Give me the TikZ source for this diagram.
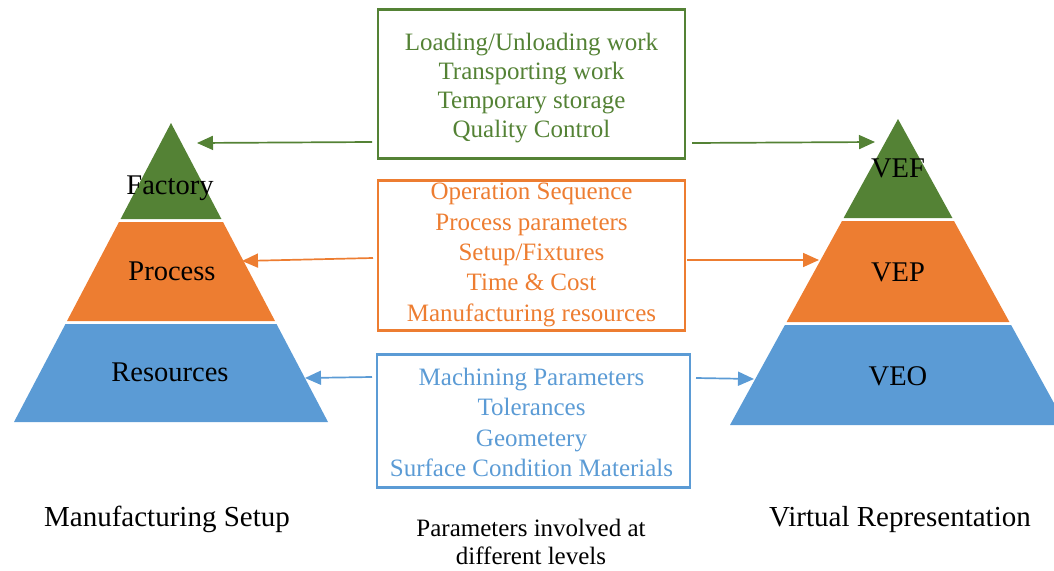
\documentclass[tikz,border=0pt]{standalone}
\usepackage{fontspec}
\setmainfont{Liberation Serif}
\usetikzlibrary{arrows.meta}
\definecolor{cgreen}{HTML}{548235}
\definecolor{corange}{HTML}{ED7D31}
\definecolor{cblue}{HTML}{5B9BD5}
\tikzset{
  parbox/.style={draw=#1, line width=2.5pt, inner sep=0pt},
  partext/.style={text=#1, align=center, inner sep=0pt},
  conn/.style={draw=#1, line width=1.7pt, -{Triangle[length=16pt,width=14pt]}, fill=#1},
  levellabel/.style={font=\fontsize{28.5}{32}\selectfont, text=black, inner sep=0pt, anchor=base},
  caption/.style={font=\fontsize{29}{33}\selectfont, text=black, inner sep=0pt, anchor=base},
  subcaption/.style={font=\fontsize{25}{28.5}\selectfont, text=black, inner sep=0pt, align=center}
}
\begin{document}
\begin{tikzpicture}[x=1pt,y=-1pt]
\useasboundingbox (0,0) rectangle (1054,570);
\clip (0,0) rectangle (1054,570);

% Left pyramid
\fill[cgreen]  (171,123) -- (221.4,219) -- (120.6,219) -- cycle;
\fill[corange] (119,222) -- (223,222) -- (275,321) -- (67,321) -- cycle;
\fill[cblue]   (65.5,324) -- (276.5,324) -- (328,422) -- (14,422) -- cycle;
\node[levellabel] (lf) at (170,194) {Factory};
\node[levellabel] (lp) at (172,280) {Process};
\node[levellabel] (lr) at (170,381) {Resources};

% Right pyramid
\fill[cgreen]  (898,119) -- (952.4,218) -- (843.6,218) -- cycle;
\fill[corange] (842,221) -- (954,221) -- (1009.4,322) -- (786.6,322) -- cycle;
\fill[cblue]   (784.9,325) -- (1011.1,325) -- (1066,425) -- (730,425) -- cycle;
\node[levellabel] (rf) at (898,177) {VEF};
\node[levellabel] (rp) at (898,281) {VEP};
\node[levellabel] (rr) at (898,385) {VEO};

% Parameter boxes
\node[parbox=cgreen, minimum width=307pt, minimum height=149pt] (gbox) at (531.5,84) {};
\node[partext=cgreen, font=\fontsize{25}{29.3}\selectfont] (gtext) at (531.5,88)
  {Loading/Unloading work\\Transporting work\\Temporary storage\\Quality Control};
\node[parbox=corange, minimum width=307pt, minimum height=150pt] (obox) at (531.5,255.5) {};
\node[partext=corange, font=\fontsize{25}{30.3}\selectfont] (otext) at (531.5,255)
  {Operation Sequence\\Process parameters\\Setup/Fixtures\\Time \& Cost\\Manufacturing resources};
\node[parbox=cblue, minimum width=313pt, minimum height=133pt] (bbox) at (533.5,421) {};
\node[partext=cblue, font=\fontsize{25}{30.2}\selectfont] (btext) at (531.5,422.5)
  {Machining Parameters\\Tolerances\\Geometery\\Surface Condition Materials};

% Connector end points
\coordinate (gl0) at (372,142);
\coordinate (gl1) at (197,143);
\coordinate (gr0) at (692,143);
\coordinate (gr1) at (875,142);
\coordinate (ol0) at (373,258);
\coordinate (ol1) at (242,261);
\coordinate (or0) at (687,260);
\coordinate (or1) at (819,260);
\coordinate (bl0) at (372,377);
\coordinate (bl1) at (305,378);
\coordinate (br0) at (696,378);
\coordinate (br1) at (754,379);

\draw[conn=cgreen]  (gl0) -- (gl1);
\draw[conn=cgreen]  (gr0) -- (gr1);
\draw[conn=corange] (ol0) -- (ol1);
\draw[conn=corange] (or0) -- (or1);
\draw[conn=cblue]   (bl0) -- (bl1);
\draw[conn=cblue]   (br0) -- (br1);

% Captions
\node[caption] (cl) at (167,526) {Manufacturing Setup};
\node[caption] (cr) at (900,526) {Virtual Representation};
\node[subcaption] (cm) at (531,542) {Parameters involved at\\different levels};
\end{tikzpicture}
\end{document}
